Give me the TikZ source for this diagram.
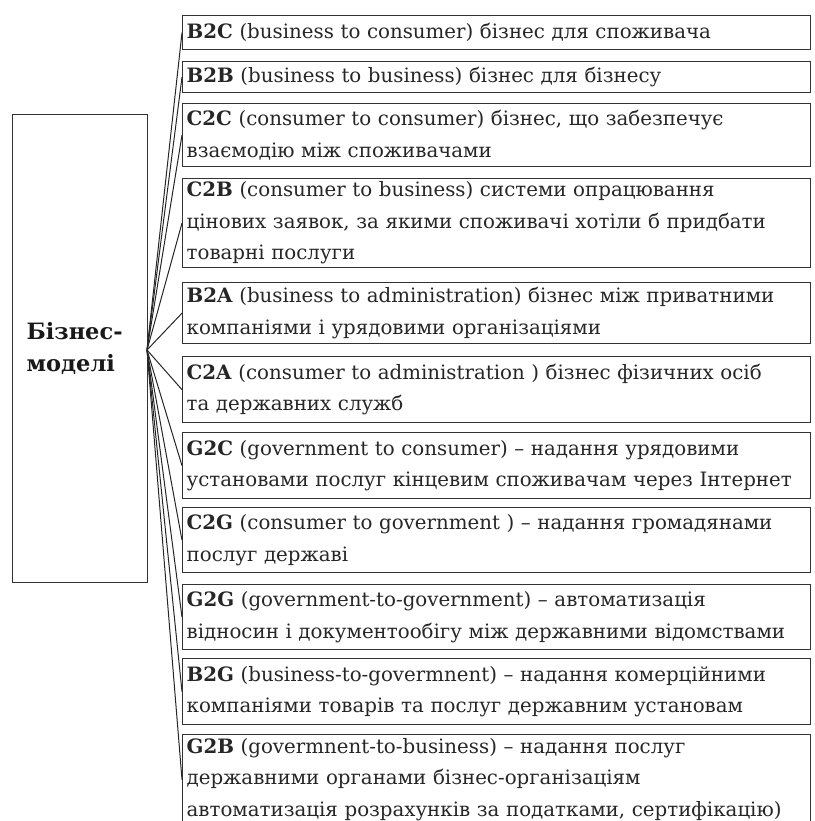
\documentclass[tikz,border=0pt]{standalone}
\usepackage{fontspec}
\setmainfont{DejaVu Serif}
\begin{document}
\begin{tikzpicture}[x=1pt,y=-1pt,
  rbox/.style={draw=black!80, line width=1.3pt, rectangle, anchor=north west,
    minimum width=628pt, text width=620pt, inner xsep=4pt, inner ysep=0pt,
    align=left, font=\fontsize{19.8}{31.5}\selectfont, text=black!85},
  lbox/.style={draw=black!80, line width=1.3pt, rectangle, anchor=north west,
    minimum width=135pt, minimum height=468pt, text width=107pt, inner xsep=14pt,
    align=left, font=\bfseries\fontsize{22.5}{32}\selectfont, text=black!90},
  fan/.style={draw=black!85, line width=1pt}]
\useasboundingbox (0,0) rectangle (814,821);
\node[lbox] (L) at (12,114) {Бізнес-\\моделі};
\coordinate (f) at (147,350);
\node[rbox, minimum height=34pt] (b1) at (182,15) {\textbf{B2C} (business to consumer) бізнес для споживача};
\node[rbox, minimum height=31pt] (b2) at (182,61) {\textbf{B2B} (business to business) бізнес для бізнесу};
\node[rbox, minimum height=63pt] (b3) at (182,103) {\textbf{C2C} (consumer to consumer) бізнес, що забезпечує\\взаємодію між споживачами};
\node[rbox, minimum height=89pt] (b4) at (182,178) {\textbf{C2B} (consumer to business) системи опрацювання\\цінових заявок, за якими споживачі хотіли б придбати\\товарні послуги};
\node[rbox, minimum height=61pt] (b5) at (182,282) {\textbf{B2A} (business to administration) бізнес між приватними\\компаніями і урядовими організаціями};
\node[rbox, minimum height=66pt] (b6) at (182,356) {\textbf{C2A} (consumer to administration ) бізнес фізичних осіб\\та державних служб};
\node[rbox, minimum height=66pt] (b7) at (182,432) {\textbf{G2C} (government to consumer) – надання урядовими\\установами послуг кінцевим споживачам через Інтернет};
\node[rbox, minimum height=65pt] (b8) at (182,507) {\textbf{C2G} (consumer to government ) – надання громадянами\\послуг державі};
\node[rbox, minimum height=65pt] (b9) at (182,584) {\textbf{G2G} (government-to-government) – автоматизація\\відносин і документообігу між державними відомствами};
\node[rbox, minimum height=66pt] (b10) at (182,658) {\textbf{B2G} (business-to-govermnent) – надання комерційними\\компаніями товарів та послуг державним установам};
\node[rbox, minimum height=90pt] (b11) at (182,734) {\textbf{G2B} (govermnent-to-business) – надання послуг\\державними органами бізнес-організаціям\\автоматизація розрахунків за податками, сертифікацію)};
\foreach \i in {1,...,11} {\draw[fan] (f) -- (b\i.west);}
\end{tikzpicture}
\end{document}
